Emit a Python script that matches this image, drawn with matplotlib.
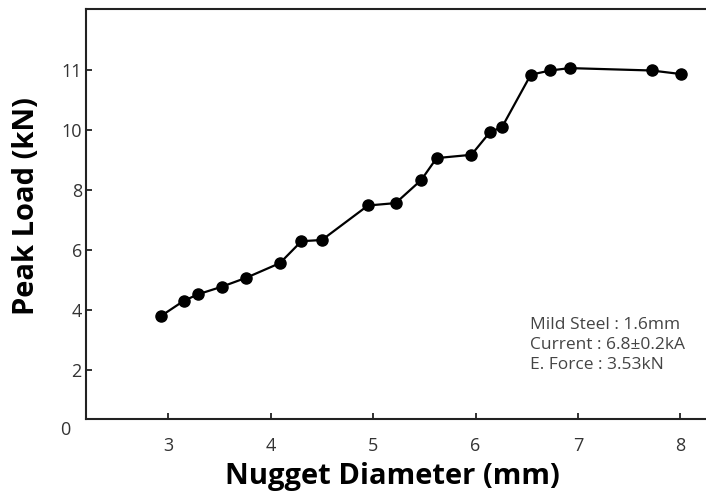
import matplotlib
matplotlib.use('Agg')
import matplotlib.pyplot as plt
import numpy as np

# nugget diameter (mm) and peak load (kN)
diameter = [2.93, 3.15, 3.29, 3.52, 3.76, 4.09, 4.30, 4.50, 4.95, 5.22,
            5.47, 5.62, 5.96, 6.14, 6.26, 6.54, 6.73, 6.92, 7.72, 8.01]
peak_load = [3.80, 4.30, 4.52, 4.77, 5.07, 5.56, 6.29, 6.33, 7.48, 7.56,
             8.33, 9.06, 9.17, 9.92, 10.05, 10.92, 10.99, 11.03, 10.99, 10.93]

x_ticks = [3, 4, 5, 6, 7, 8]
y_ticks = [2, 4, 6, 8, 10, 11]
note = 'Mild Steel : 1.6mm\nCurrent : 6.8±0.2kA\nE. Force : 3.53kN'

plt.rcParams['font.family'] = ['Open Sans', 'DejaVu Sans']


# the original axis stretches the 10-11 kN step to twice the size
def fwd(y):
    y = np.asarray(y, dtype=float)
    return np.where(y <= 10, y, 10 + 2 * (y - 10))


def inv(t):
    t = np.asarray(t, dtype=float)
    return np.where(t <= 10, t, 10 + (t - 10) / 2)


fig = plt.figure(figsize=(7.06, 4.97), dpi=100)
ax = fig.add_axes([86 / 706, 78.5 / 497, 620 / 706, 409.2 / 497])
ax.set_yscale('function', functions=(fwd, inv))

ax.plot(diameter, peak_load, color='black', linewidth=1.6,
        marker='o', markersize=8, markerfacecolor='black')

ax.set_xlim(2.196, 8.251)
ax.set_ylim(0.38, 12.01)
ax.set_xticks(x_ticks)
ax.set_yticks(y_ticks)
ax.set_xticklabels([str(v) for v in x_ticks])
ax.set_yticklabels([str(v) for v in y_ticks])

ax.tick_params(direction='in', length=4.5, width=1.3, labelsize=13,
               labelcolor='#333333', colors='#222222')
ax.tick_params(axis='x', pad=13)
ax.tick_params(axis='y', pad=3)

for side in ['left', 'top', 'bottom']:
    ax.spines[side].set_linewidth(1.5)
    ax.spines[side].set_color('#222222')
ax.spines['right'].set_visible(False)

# the "0" sits below the frame in the original
ax.text(-0.025, 0, '0', transform=ax.get_yaxis_transform(), ha='right',
        va='center', fontsize=13, color='#333333', clip_on=False)

ax.set_xlabel('Nugget Diameter (mm)', fontsize=21, fontweight='bold')
ax.set_ylabel('Peak Load (kN)', fontsize=21, fontweight='bold')
ax.xaxis.set_label_coords(0.4935, -0.107)
ax.yaxis.set_label_coords(-0.072, 0.519)

ax.text(0.716, 0.18, note, transform=ax.transAxes, fontsize=12.5,
        color='#444444', va='center', ha='left', linespacing=1.36)

fig.savefig('out.png', dpi=100)
